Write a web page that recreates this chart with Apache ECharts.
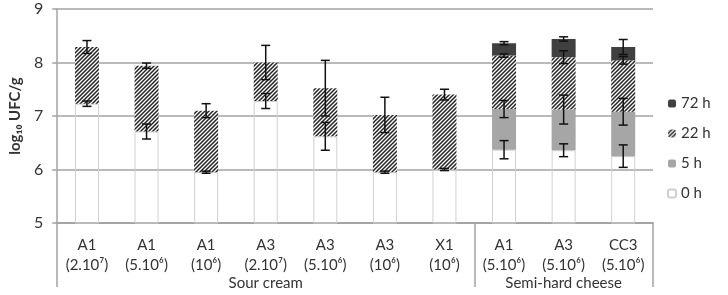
<!DOCTYPE html>
<html>
<head>
<meta charset="utf-8">
<script src="https://cdn.jsdelivr.net/npm/echarts@6/dist/echarts.min.js"></script>
<style>
  html, body { margin: 0; padding: 0; background: #fff; }
  #chart { width: 728px; height: 295px; }
</style>
</head>
<body>
<div id="chart"></div>
<script>
const categories = ['A1\n(2.10⁷)', 'A1\n(5.10⁶)', 'A1\n(10⁶)', 'A3\n(2.10⁷)', 'A3\n(5.10⁶)',
  'A3\n(10⁶)', 'X1\n(10⁶)', 'A1\n(5.10⁶)', 'A3\n(5.10⁶)', 'CC3\n(5.10⁶)']
const groupNames = ['Sour cream', 'Semi-hard cheese']
const groupStarts = [0, 7]
const groupEnds = [7, 10]

// log10 UFC/g at each sampling time (null = not measured)
const h0 = [7.23, 6.71, 5.95, 7.28, 6.62, 5.95, 6.00, 6.37, 6.36, 6.25]
const h5 = [null, null, null, null, null, null, null, 7.13, 7.12, 7.08]
const h22 = [8.29, 7.94, 7.10, 8.00, 7.52, 7.02, 7.40, 8.13, 8.10, 8.04]
const h72 = [null, null, null, null, null, null, null, 8.36, 8.44, 8.29]

// standard deviations
const err0 = [0.05, 0.14, 0.02, 0.14, 0.26, 0.02, 0.02, 0.17, 0.12, 0.21]
const err5 = [null, null, null, null, null, null, null, 0.16, 0.27, 0.25]
const err22 = [0.12, 0.05, 0.13, 0.32, 0.52, 0.33, 0.10, 0.03, 0.12, 0.07]
const err72 = [null, null, null, null, null, null, null, 0.03, 0.04, 0.14]

const gridColor = '#a3a3a3'
const textColor = '#333'
const font = 'Lato'

// hatch pattern for 22 h
const makeHatch = () => {
  const c = document.createElement('canvas')
  c.width = 4
  c.height = 4
  const ctx = c.getContext('2d')
  ctx.fillStyle = '#fff'
  ctx.fillRect(0, 0, 4, 4)
  ctx.strokeStyle = '#222'
  ctx.lineWidth = 1.5
  ctx.beginPath()
  ctx.moveTo(0, 4); ctx.lineTo(4, 0)
  ctx.moveTo(-1, 1); ctx.lineTo(1, -1)
  ctx.moveTo(3, 5); ctx.lineTo(5, 3)
  ctx.stroke()
  return c
}
const hatch = { image: makeHatch(), repeat: 'repeat' }

// stacked segments: each layer sits on top of the previous measured one
const seg5 = h5.map((v, i) => (v == null ? 0 : +(v - h0[i]).toFixed(3)))
const seg22 = h22.map((v, i) => +(v - (h5[i] != null ? h5[i] : h0[i])).toFixed(3))
const seg72 = h72.map((v, i) => (v == null ? 0 : +(v - h22[i]).toFixed(3)))

const errData = []
const pushErr = (vals, errs) => {
  vals.forEach((v, i) => {
    if (v != null && errs[i] != null) errData.push([i, v, errs[i]])
  })
}
pushErr(h0, err0)
pushErr(h5, err5)
pushErr(h22, err22)
pushErr(h72, err72)

const groupCenter = {}
groupNames.forEach((n, g) => {
  groupCenter[Math.floor((groupStarts[g] + groupEnds[g] - 1) / 2)] = n
})

const chart = echarts.init(document.getElementById('chart'))

const option = {
  animation: false,
  backgroundColor: '#fff',
  textStyle: { fontFamily: font },
  grid: { left: 49, right: 75, top: 9, bottom: 72 },
  legend: {
    orient: 'vertical',
    left: 662,
    top: 91,
    itemWidth: 8,
    itemHeight: 8,
    itemGap: 15,
    textStyle: { fontSize: 15, color: textColor, fontFamily: font },
    data: ['72 h', '22 h', '5 h', '0 h'],
  },
  xAxis: [
    {
      type: 'category',
      data: categories,
      axisLine: { lineStyle: { color: gridColor, width: 1.5 } },
      axisTick: { length: 30, lineStyle: { color: gridColor, width: 1.5 } },
      axisLabel: {
        interval: 0,
        margin: 12,
        lineHeight: 20,
        fontSize: 15,
        color: textColor,
        fontFamily: font,
      },
    },
    {
      type: 'category',
      data: categories,
      position: 'bottom',
      axisLine: { show: true, lineStyle: { color: gridColor, width: 1.5 } },
      axisTick: {
        show: true,
        length: 64,
        interval: (i) => groupStarts.includes(i),
        lineStyle: { color: gridColor, width: 1.5 },
      },
      axisLabel: {
        interval: 0,
        margin: 53,
        fontSize: 15,
        color: textColor,
        fontFamily: font,
        formatter: (v, i) => groupCenter[i] || '',
      },
    },
  ],
  yAxis: {
    type: 'value',
    min: 5,
    max: 9,
    interval: 1,
    name: 'log₁₀ UFC/g',
    nameLocation: 'middle',
    nameGap: 33,
    nameTextStyle: { fontSize: 15, fontWeight: 'bold', color: textColor, fontFamily: font },
    axisLine: { show: true, lineStyle: { color: gridColor, width: 1.5 } },
    axisTick: { show: true, length: 5, lineStyle: { color: gridColor, width: 1.5 } },
    axisLabel: { fontSize: 16, color: textColor, fontFamily: font, margin: 14 },
    splitLine: { lineStyle: { color: gridColor, width: 1.5 } },
  },
  series: [
    {
      name: '0 h',
      type: 'bar',
      stack: 'growth',
      barWidth: 24,
      data: h0,
      itemStyle: { color: 'rgba(255,255,255,0)', borderColor: '#d0d0d0', borderWidth: 1 },
    },
    {
      name: '5 h',
      type: 'bar',
      stack: 'growth',
      barWidth: 24,
      data: seg5,
      itemStyle: { color: '#a6a6a6' },
    },
    {
      name: '22 h',
      type: 'bar',
      stack: 'growth',
      barWidth: 24,
      data: seg22,
      itemStyle: { color: hatch },
    },
    {
      name: '72 h',
      type: 'bar',
      stack: 'growth',
      barWidth: 24,
      data: seg72,
      itemStyle: { color: '#404040' },
    },
    {
      name: 'sd',
      type: 'custom',
      z: 10,
      data: errData,
      renderItem: (params, api) => {
        const x = api.value(0)
        const v = api.value(1)
        const e = api.value(2)
        const top = api.coord([x, v + e])
        const bot = api.coord([x, v - e])
        const hw = 4.5
        const style = { stroke: '#111', lineWidth: 1.5 }
        return {
          type: 'group',
          children: [
            { type: 'line', shape: { x1: top[0], y1: top[1], x2: bot[0], y2: bot[1] }, style },
            { type: 'line', shape: { x1: top[0] - hw, y1: top[1], x2: top[0] + hw, y2: top[1] }, style },
            { type: 'line', shape: { x1: bot[0] - hw, y1: bot[1], x2: bot[0] + hw, y2: bot[1] }, style },
          ],
        }
      },
    },
  ],
}

chart.setOption(option)
</script>
</body>
</html>
